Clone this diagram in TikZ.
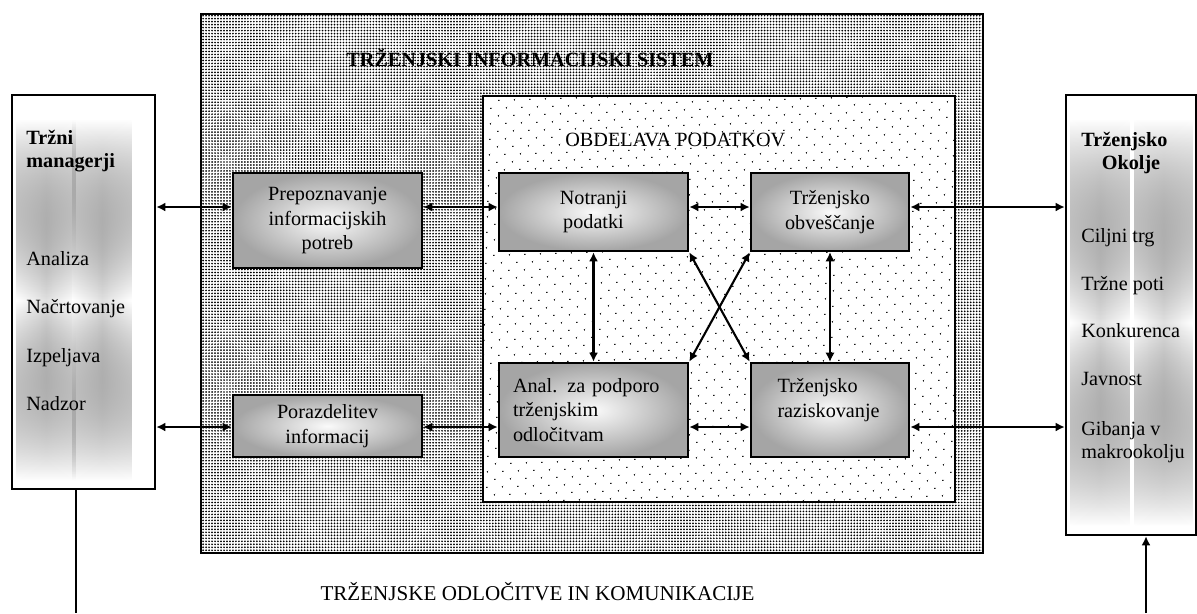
\documentclass[tikz,border=0pt]{standalone}
\usepackage{fontspec}
\setmainfont{Liberation Serif}
\usetikzlibrary{arrows.meta, positioning, calc, patterns.meta, fadings}
\definecolor{boxgray}{RGB}{165,165,165}
\tikzfading[name=fade ends, top color=transparent!100, bottom color=transparent!100, middle color=transparent!0]
\tikzset{
  infobox/.style={draw, line width=1.5pt, inner color=gray!4, outer color=boxgray, font=\fontsize{11.5}{14}\selectfont, align=center},
  sidebox/.style={draw, line width=1.5pt, fill=white},
  band/.style={path fading=fade ends, left color=white, right color=white, middle color=gray!24},
  sidetext/.style={anchor=base west, inner sep=0pt, font=\fontsize{11.5}{14}\selectfont},
  link/.style={line width=1.2pt, {Latex[length=1.8mm,width=1.8mm]}-{Latex[length=1.8mm,width=1.8mm]}},
}

\begin{document}
\begin{tikzpicture}[x=0.02cm, y=-0.02cm]
  \useasboundingbox (0,0) rectangle (1197,613);

  \node[draw, line width=1.3pt, minimum width=15.64cm, minimum height=10.78cm, pattern={Dots[distance=1.7pt, radius=0.55pt]}] (tis) at (592,283.5) {};
  \node[draw, line width=1.5pt, minimum width=9.44cm, minimum height=8.12cm, preaction={fill=white}, pattern={Dots[angle=45, distance=6.5pt, radius=0.55pt]}] (proc) at (719,299) {};
  \node[anchor=base, font=\fontsize{11.5}{13}\selectfont\bfseries] (tistitle) at (530,66) {TRŽENJSKI INFORMACIJSKI SISTEM};
  \node[sidetext] (proctitle) at (565,146) {OBDELAVA PODATKOV};

  \node[infobox, minimum width=3.78cm, minimum height=1.9cm] (needs) at (327.5,220.5) {Prepoznavanje\\informacijskih\\potreb};
  \node[infobox, minimum width=3.78cm, minimum height=1.24cm] (distrib) at (327.5,426) {Porazdelitev\\informacij};
  \node[infobox, minimum width=3.78cm, minimum height=1.56cm] (internal) at (593.5,212) {Notranji\\podatki};
  \node[infobox, minimum width=3.16cm, minimum height=1.56cm] (intel) at (830,212) {Trženjsko\\obveščanje};
  \node[infobox, minimum width=3.78cm, minimum height=1.88cm, text width=3.22cm, align=left] (support) at (593.5,410) {Anal. za podporo\\trženjskim\\odločitvam};
  \node[infobox, minimum width=3.16cm, minimum height=1.88cm, text width=2.1cm, align=left] (research) at (830,410) {Trženjsko\\raziskovanje\\\mbox{}};

  \node[sidebox, minimum width=2.86cm, minimum height=7.88cm] (mgr) at (83.5,292) {};
  \fill[band] (16,120) rectangle (76,480);
  \fill[band] (72,120) rectangle (132,480);
  \node[sidetext] (mgr1) at (26,144) {\textbf{Tržni}};
  \node[sidetext] (mgr2) at (26,167) {\textbf{managerji}};
  \node[sidetext] (mgr3) at (26,265) {Analiza};
  \node[sidetext] (mgr4) at (26,313) {Načrtovanje};
  \node[sidetext] (mgr5) at (26,362) {Izpeljava};
  \node[sidetext] (mgr6) at (26,410) {Nadzor};

  \node[sidebox, minimum width=2.6cm, minimum height=8.8cm] (env) at (1131,315) {};
  \fill[band] (1070,120) rectangle (1130,525);
  \fill[band] (1134,120) rectangle (1193,525);
  \node[sidetext] (env1) at (1081,146) {\textbf{Trženjsko}};
  \node[sidetext, anchor=base] (env2) at (1131,169) {\textbf{Okolje}};
  \node[sidetext] (env3) at (1081,242) {Ciljni trg};
  \node[sidetext] (env4) at (1081,290) {Tržne poti};
  \node[sidetext] (env5) at (1081,337) {Konkurenca};
  \node[sidetext] (env6) at (1081,385) {Javnost};
  \node[sidetext] (env7) at (1081,435) {Gibanja v};
  \node[sidetext] (env8) at (1081,458) {makrookolju};

  \node[anchor=base, font=\fontsize{12}{14}\selectfont] (decisions) at (537.5,600) {TRŽENJSKE ODLOČITVE IN KOMUNIKACIJE};

  \coordinate (row1) at (0,207);
  \coordinate (row2) at (0,427);
  \draw[link] (mgr.east |- row1) -- (needs.west |- row1);
  \draw[link] (needs.east |- row1) -- (internal.west |- row1);
  \draw[link] (internal.east |- row1) -- (intel.west |- row1);
  \draw[link] (intel.east |- row1) -- (env.west |- row1);
  \draw[link] (mgr.east |- row2) -- (distrib.west |- row2);
  \draw[link] (distrib.east |- row2) -- (support.west |- row2);
  \draw[link] (support.east |- row2) -- (research.west |- row2);
  \draw[link] (research.east |- row2) -- (env.west |- row2);
  \draw[link] (internal.south) -- (support.north);
  \draw[link, line width=0.6pt] (intel.south) -- (research.north);
  \draw[link] (internal.south east) -- (research.north west);
  \draw[link] (intel.south west) -- (support.north east);

  \coordinate (mgrfoot) at (76,613);
  \coordinate (envfoot) at (1146,613);
  \draw[line width=1.2pt] (mgr.south -| mgrfoot) -- (mgrfoot);
  \draw[line width=1.2pt, -{Latex[length=1.8mm,width=1.8mm]}] (envfoot) -- (envfoot |- env.south);
\end{tikzpicture}
\end{document}
